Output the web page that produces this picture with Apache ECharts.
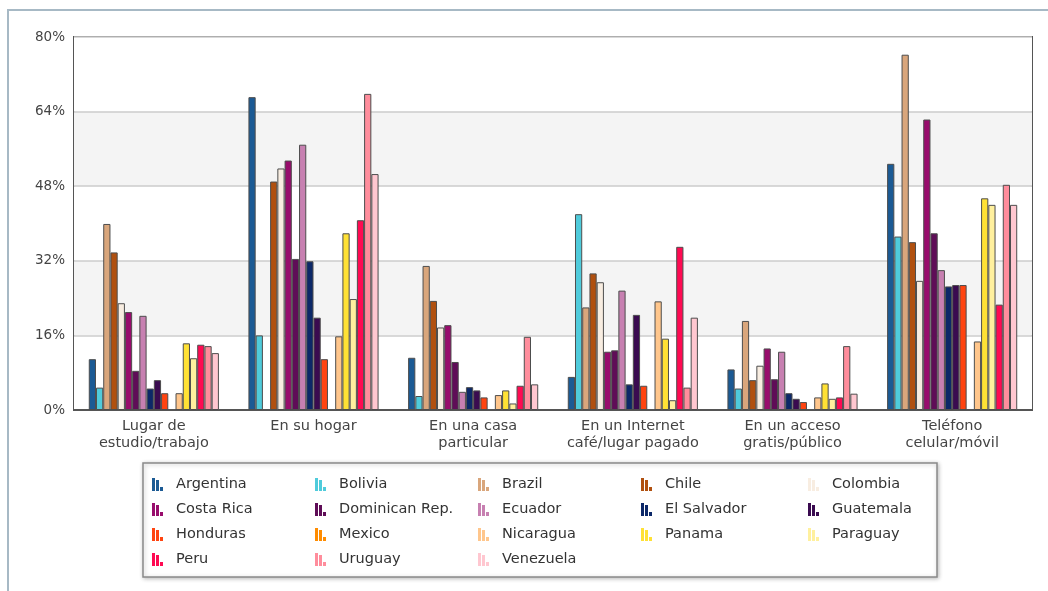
<!DOCTYPE html>
<html>
<head>
<meta charset="utf-8">
<script src="https://cdn.jsdelivr.net/npm/echarts@6/dist/echarts.min.js"></script>
<style>
  html, body { margin: 0; padding: 0; background: #fff; }
  #chart { width: 1048px; height: 591px; }
</style>
</head>
<body>
<div id="chart"></div>
<script>
// Where people access the internet, share of respondents by country (%)
const categories = [
  'Lugar de\nestudio/trabajo',
  'En su hogar',
  'En una casa\nparticular',
  'En un Internet\ncafé/lugar pagado',
  'En un acceso\ngratis/público',
  'Teléfono\ncelular/móvil'
];

const yTicks = [0, 16, 32, 48, 64, 80];

const countries = [
  'Argentina', 'Bolivia', 'Brazil', 'Chile', 'Colombia',
  'Costa Rica', 'Dominican Rep.', 'Ecuador', 'El Salvador', 'Guatemala',
  'Honduras', 'Mexico', 'Nicaragua', 'Panama', 'Paraguay',
  'Peru', 'Uruguay', 'Venezuela'
];

const colors = [
  '#1b5a94', '#4fcbdb', '#d9a67c', '#b0500f', '#f8ede1',
  '#980c6c', '#5f0d57', '#c780b1', '#0c2868', '#3a0b50',
  '#ff4410', '#ff8c00', '#ffc68c', '#ffe135', '#fff09e',
  '#ff0a52', '#ff8d9c', '#ffc7d0'
];

// One array per country, in category order
const argentina   = [10.9, 67.1, 11.2,  7.1,  8.7, 52.8];
const bolivia     = [ 4.8, 16.0,  3.0, 42.0,  4.6, 37.2];
const brazil      = [39.9, null, 30.9, 22.0, 19.1, 76.2];
const chile       = [33.8, 49.0, 23.4, 29.3,  6.4, 36.0];
const colombia    = [22.9, 51.8, 17.7, 27.4,  9.5, 27.7];
const costaRica   = [21.0, 53.5, 18.2, 12.5, 13.2, 62.3];
const dominican   = [ 8.4, 32.4, 10.3, 12.8,  6.6, 37.9];
const ecuador     = [20.2, 56.9,  3.9, 25.6, 12.5, 30.0];
const elSalvador  = [ 4.6, 31.9,  4.9,  5.5,  3.6, 26.5];
const guatemala   = [ 6.4, 19.8,  4.2, 20.4,  2.4, 26.8];
const honduras    = [ 3.6, 10.9,  2.7,  5.2,  1.7, 26.8];
const mexico      = [null, null, null, null, null, null];
const nicaragua   = [ 3.6, 15.8,  3.2, 23.3,  2.7, 14.7];
const panama      = [14.3, 37.9,  4.2, 15.3,  5.7, 45.4];
const paraguay    = [11.1, 23.8,  1.4,  2.1,  2.4, 44.0];
const peru        = [14.0, 40.7,  5.2, 35.0,  2.7, 22.6];
const uruguay     = [13.7, 67.8, 15.7,  4.8, 13.7, 48.3];
const venezuela   = [12.2, 50.6,  5.5, 19.8,  3.5, 44.0];

const seriesValues = [
  argentina, bolivia, brazil, chile, colombia,
  costaRica, dominican, ecuador, elSalvador, guatemala,
  honduras, mexico, nicaragua, panama, paraguay,
  peru, uruguay, venezuela
];

// Legend columns (read across rows, laid out as five columns)
const legendColumns = [
  ['Argentina', 'Costa Rica', 'Honduras', 'Peru'],
  ['Bolivia', 'Dominican Rep.', 'Mexico', 'Uruguay'],
  ['Brazil', 'Ecuador', 'Nicaragua', 'Venezuela'],
  ['Chile', 'El Salvador', 'Panama'],
  ['Colombia', 'Guatemala', 'Paraguay']
];

const FONT = 'DejaVu Sans';
const barIcon = 'path://M0,0L3,0L3,13L0,13Z M4,2L7,2L7,13L4,13Z M8,9L11,9L11,13L8,13Z';
const legendLeft = [152, 315, 478, 641, 808];

const chart = echarts.init(document.getElementById('chart'), null, { renderer: 'canvas' });

const option = {
  animation: false,
  backgroundColor: '#fff',
  color: colors,
  graphic: [
    {
      type: 'rect',
      z: -10,
      shape: { x: 8, y: 10, width: 1060, height: 600 },
      style: { fill: '#fff', stroke: '#a7b9c5', lineWidth: 2 }
    },
    {
      type: 'rect',
      z: 0,
      shape: { x: 143, y: 463, width: 794, height: 114 },
      style: {
        fill: '#fff', stroke: '#8a8a8a', lineWidth: 1.5,
        shadowBlur: 4, shadowColor: 'rgba(0,0,0,0.25)', shadowOffsetX: 1, shadowOffsetY: 1
      }
    }
  ],
  grid: {
    left: 74, right: 16, top: 37, bottom: 181,
    show: true, borderColor: '#555', borderWidth: 2, backgroundColor: 'transparent'
  },
  legend: legendColumns.map((col, i) => ({
    orient: 'vertical',
    left: legendLeft[i],
    top: 477,
    padding: 0,
    itemWidth: 11,
    itemHeight: 13,
    itemGap: 10,
    icon: barIcon,
    itemStyle: { borderWidth: 0 },
    data: col,
    selectedMode: false,
    textStyle: { fontFamily: FONT, fontSize: 14.5, color: '#333', padding: [0, 0, 0, 8] }
  })),
  xAxis: {
    type: 'category',
    data: categories,
    axisTick: { show: false },
    axisLine: { show: true, lineStyle: { color: '#555', width: 2 } },
    axisLabel: {
      fontFamily: FONT, fontSize: 14.5, color: '#444', margin: 8, lineHeight: 17,
      interval: 0
    }
  },
  yAxis: {
    type: 'value',
    min: yTicks[0],
    max: yTicks[yTicks.length - 1],
    interval: yTicks[1] - yTicks[0],
    axisLine: { show: false },
    axisTick: { show: false },
    axisLabel: {
      fontFamily: FONT, fontSize: 13.5, color: '#444', margin: 9,
      formatter: '{value}%'
    },
    splitLine: { lineStyle: { color: '#cdcdcd', width: 1.5 } },
    splitArea: { show: true, areaStyle: { color: ['#ffffff', '#f4f4f4'] } }
  },
  series: countries.map((name, i) => ({
    name: name,
    type: 'bar',
    data: seriesValues[i],
    barGap: '0%',
    barCategoryGap: '18.5%',
    itemStyle: { color: colors[i], borderColor: '#4d4d4d', borderWidth: 1 }
  }))
};

chart.setOption(option);
</script>
</body>
</html>
